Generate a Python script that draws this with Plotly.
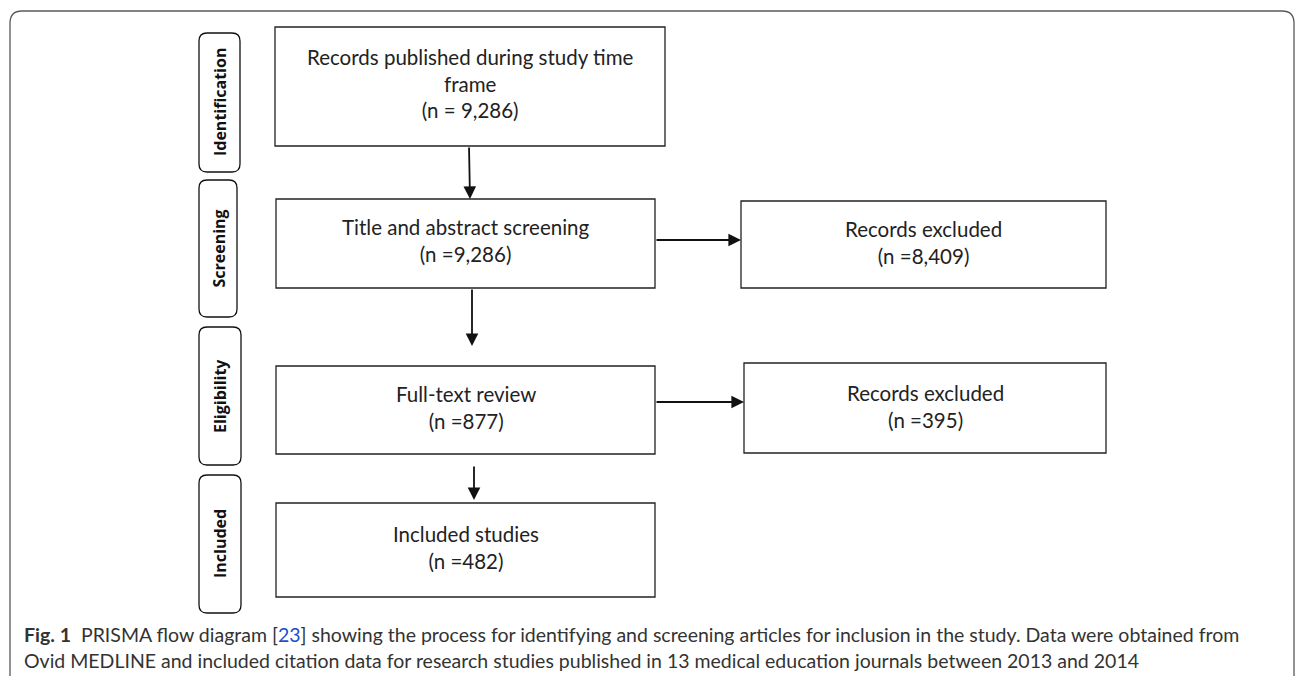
import plotly.graph_objects as go

# ---- data ----
stage_labels = ["Identification", "Screening", "Eligibility", "Included"]
main_titles = ["Records published during study time<br>frame", "Title and abstract screening",
               "Full-text review", "Included studies"]
main_counts = [9286, 9286, 877, 482]
main_prefix = ["n = ", "n =", "n =", "n ="]
excl_titles = ["Records excluded", "Records excluded"]
excl_counts = [8409, 395]
caption_bold = "Fig. 1"
caption_ref = "23"
caption_l1a = "PRISMA flow diagram ["
caption_l1b = "] showing the process for identifying and screening articles for inclusion in the study. Data were obtained from"
caption_l2 = "Ovid MEDLINE and included citation data for research studies published in 13 medical education journals between 2013 and 2014"

# ---- layout geometry (pixels) ----
W, H = 1295, 676
stage_boxes = [(199, 33, 240, 172), (199, 180, 237, 317), (199, 327, 241, 465), (199, 475, 241, 613)]
main_boxes = [(275, 27, 665, 146), (276, 199, 655, 288), (276, 366, 655, 454), (276, 503, 655, 597)]
excl_boxes = [(741, 201, 1106, 288), (744, 363, 1106, 453)]
down_arrows = [((469, 146), (470, 199)), ((472, 288), (472, 346)), ((474, 465), (474, 500))]
right_arrows = [((655, 240), (741, 240)), ((655, 402), (744, 402))]

fig = go.Figure()
shapes = []
annotations = []

def rounded_rect(x0, y0, x1, y1, r, color, width):
    p = (f"M {x0+r},{y0} L {x1-r},{y0} Q {x1},{y0} {x1},{y0+r} "
         f"L {x1},{y1-r} Q {x1},{y1} {x1-r},{y1} L {x0+r},{y1} "
         f"Q {x0},{y1} {x0},{y1-r} L {x0},{y0+r} Q {x0},{y0} {x0+r},{y0} Z")
    return dict(type="path", path=p, xref="x", yref="y",
                line=dict(color=color, width=width), fillcolor="rgba(0,0,0,0)")

# outer frame
shapes.append(rounded_rect(10, 11, 1294, 700, 12, "#5a5a5a", 1.3))

TXT = "Lato, 'Open Sans', sans-serif"

for lab, (x0, y0, x1, y1) in zip(stage_labels, stage_boxes):
    shapes.append(rounded_rect(x0, y0, x1, y1, 8, "#111", 1.3))
    annotations.append(dict(x=(x0 + x1) / 2, y=(y0 + y1) / 2, xref="x", yref="y",
                            text=f"<b>{lab}</b>", showarrow=False, textangle=-90,
                            font=dict(family="'Open Sans', sans-serif", size=16, color="#111")))

for t, c, pre, (x0, y0, x1, y1) in zip(main_titles, main_counts, main_prefix, main_boxes):
    shapes.append(dict(type="rect", x0=x0, y0=y0, x1=x1, y1=y1, xref="x", yref="y",
                       line=dict(color="#222", width=1.3)))
    annotations.append(dict(x=(x0 + x1) / 2, y=(y0 + y1) / 2 - 3, xref="x", yref="y",
                            text=f"{t}<br>({pre}{c:,})", showarrow=False,
                            font=dict(family=TXT, size=20.5, color="#222")))

for t, c, (x0, y0, x1, y1) in zip(excl_titles, excl_counts, excl_boxes):
    shapes.append(dict(type="rect", x0=x0, y0=y0, x1=x1, y1=y1, xref="x", yref="y",
                       line=dict(color="#222", width=1.3)))
    annotations.append(dict(x=(x0 + x1) / 2, y=(y0 + y1) / 2 - 2, xref="x", yref="y",
                            text=f"{t}<br>(n ={c:,})", showarrow=False,
                            font=dict(family=TXT, size=20.5, color="#222")))

for (s, e) in down_arrows + right_arrows:
    annotations.append(dict(x=e[0], y=e[1], ax=s[0], ay=s[1], xref="x", yref="y",
                            axref="x", ayref="y", text="", showarrow=True,
                            arrowhead=2, arrowsize=1.4, arrowwidth=1.8, arrowcolor="#111"))

# caption
annotations.append(dict(x=22, y=634, xref="x", yref="y", xanchor="left", yanchor="middle",
                        text=f"<b>{caption_bold}</b>  {caption_l1a}<span style='color:#1a4fd0'>{caption_ref}</span>{caption_l1b}",
                        showarrow=False, font=dict(family="Lato, sans-serif", size=19.5, color="#333")))
annotations.append(dict(x=22, y=660, xref="x", yref="y", xanchor="left", yanchor="middle",
                        text=caption_l2, showarrow=False,
                        font=dict(family="Lato, sans-serif", size=19.5, color="#333")))

fig.update_layout(
    width=W, height=H, margin=dict(l=0, r=0, t=0, b=0),
    paper_bgcolor="white", plot_bgcolor="white",
    xaxis=dict(range=[0, W], visible=False, fixedrange=True),
    yaxis=dict(range=[H, 0], visible=False, fixedrange=True),
    shapes=shapes, annotations=annotations, showlegend=False,
)
fig.write_html("out.html", config={"displayModeBar": False},
               post_script="document.body.style.margin='0';document.body.style.overflow='hidden';")
